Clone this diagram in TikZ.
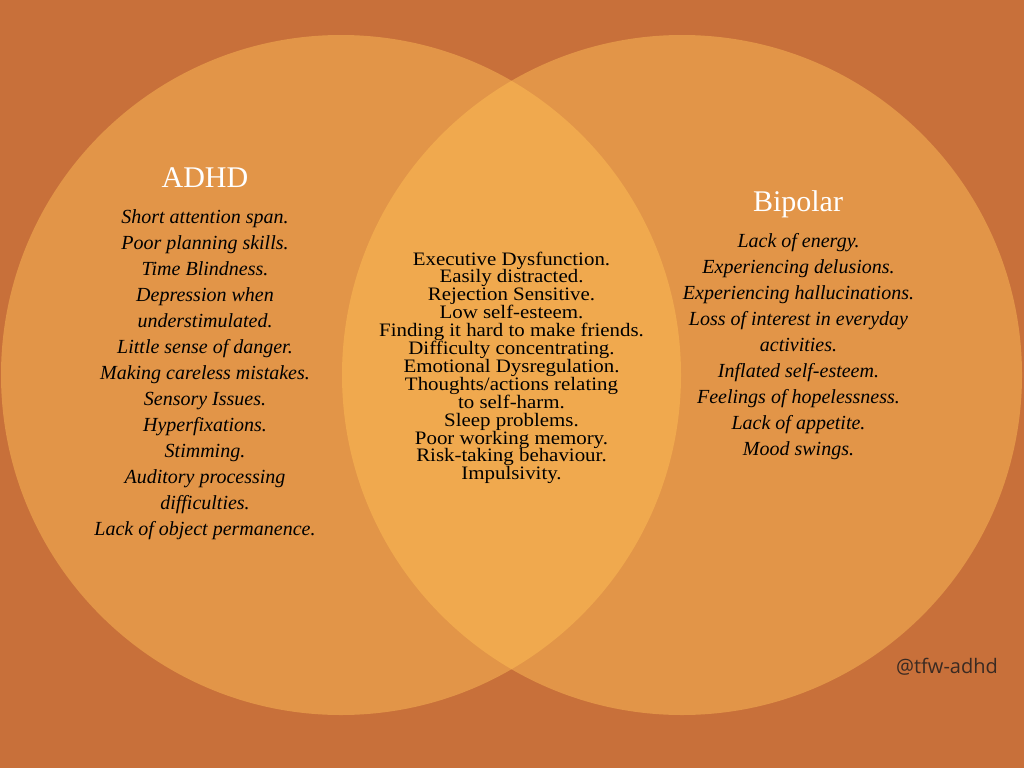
\documentclass[tikz,border=0pt]{standalone}
\usepackage{fontspec}
\setmainfont{Liberation Serif}
\newfontfamily\midfont[FakeStretch=1.1]{Liberation Serif}
\newfontfamily\sigfont{Open Sans}
\definecolor{bgc}{HTML}{C8703A}
\definecolor{circc}{HTML}{E29548}
\definecolor{overc}{HTML}{F0A94E}
\definecolor{sigc}{HTML}{3A2A22}
\begin{document}
\begin{tikzpicture}[x=1pt,y=-1pt,
  title/.style={inner sep=0pt,anchor=base,text=white,font=\fontsize{30}{30}\selectfont},
  sideitem/.style={inner sep=0pt,anchor=base,text=black,font=\fontsize{20}{20}\selectfont\itshape},
  miditem/.style={inner sep=0pt,anchor=base,text=black,font=\fontsize{19}{19}\selectfont\midfont},
  sig/.style={inner sep=0pt,anchor=base,text=sigc,font=\fontsize{20}{20}\selectfont\sigfont}]
\fill[bgc] (0,0) rectangle (1024,768);
\useasboundingbox (0,0) rectangle (1024,768);
\fill[circc] (341,375) circle[radius=340];
\fill[circc] (682,375) circle[radius=340];
\begin{scope}
  \clip (341,375) circle[radius=340];
  \fill[overc] (682,375) circle[radius=340];
\end{scope}
\node[title] (adhd) at (205,187) {ADHD};
\node[title] (bipolar) at (798,211) {Bipolar};
\foreach \t [count=\i from 0] in {Short attention span.,Poor planning skills.,Time Blindness.,Depression when,understimulated.,Little sense of danger.,Making careless mistakes.,Sensory Issues.,Hyperfixations.,Stimming.,Auditory processing,difficulties.,Lack of object permanence.}
  \node[sideitem] (L\i) at (205,223+26*\i) {\t};
\foreach \t [count=\i from 0] in {Lack of energy.,Experiencing delusions.,Experiencing hallucinations.,Loss of interest in everyday,activities.,Inflated self-esteem.,Feelings of hopelessness.,Lack of appetite.,Mood swings.}
  \node[sideitem] (R\i) at (798.5,247+26*\i) {\t};
\foreach \t [count=\i from 0] in {Executive Dysfunction.,Easily distracted.,Rejection Sensitive.,Low self-esteem.,Finding it hard to make friends.,Difficulty concentrating.,Emotional Dysregulation.,Thoughts/actions relating,to self-harm.,Sleep problems.,Poor working memory.,Risk-taking behaviour.,Impulsivity.}
  \node[miditem] (M\i) at (511.5,265+17.9*\i) {\t};
\node[sig] (tag) at (947,673) {@tfw-adhd};
\end{tikzpicture}
\end{document}
